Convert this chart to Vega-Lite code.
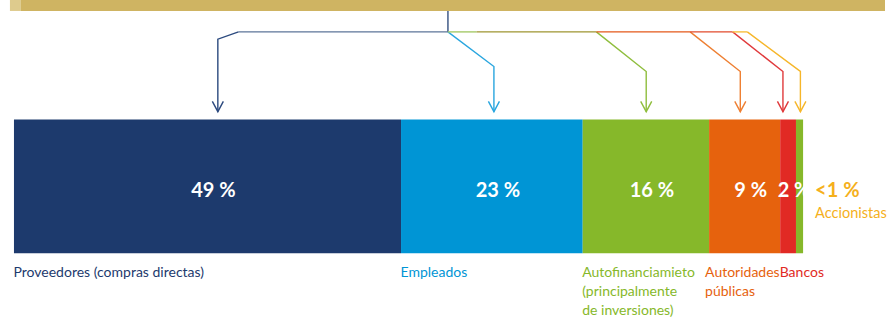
{
  "$schema": "https://vega.github.io/schema/vega-lite/v6.json",
  "width": 887,
  "height": 318,
  "autosize": {"type": "fit", "contains": "padding"},
  "padding": 0,
  "background": "white",
  "config": {"view": {"stroke": null}},
  "datasets": {
    "segments": [
      {"order": 1, "name": "Proveedores", "value": 49, "label": "49 %", "caption": "Proveedores (compras directas)"},
      {"order": 2, "name": "Empleados", "value": 23, "label": "23 %", "caption": "Empleados"},
      {"order": 3, "name": "Autofinanciamiento", "value": 16, "label": "16 %", "caption": "Autofinanciamieto\n(principalmente\nde inversiones)"},
      {"order": 4, "name": "Autoridades", "value": 9, "label": "9 %", "caption": "Autoridades\n públicas"},
      {"order": 5, "name": "Bancos", "value": 2, "label": "2 %", "caption": "Bancos"},
      {"order": 6, "name": "Accionistas", "value": 0.9, "label": "<1 %", "caption": "Accionistas"}
    ],
    "band": [
      {"part": "edge", "from": -0.51, "to": 0.88},
      {"part": "band", "from": 0.88, "to": 110.27}
    ],
    "connectors": [
      {"path": "trunk", "step": 1, "x": 54.94, "y": 11},
      {"path": "trunk", "step": 2, "x": 54.94, "y": 32},
      {"path": "blueH", "step": 1, "x": 54.94, "y": 32},
      {"path": "blueH", "step": 2, "x": 28.42, "y": 32},
      {"path": "blue", "step": 1, "x": 28.42, "y": 32},
      {"path": "blue", "step": 2, "x": 25.81, "y": 39.3},
      {"path": "blue", "step": 3, "x": 25.81, "y": 112},
      {"path": "lightblue", "step": 1, "x": 54.94, "y": 32},
      {"path": "lightblue", "step": 2, "x": 60.76, "y": 66.7},
      {"path": "lightblue", "step": 3, "x": 60.76, "y": 112},
      {"path": "greenH1", "step": 1, "x": 54.94, "y": 32},
      {"path": "greenH1", "step": 2, "x": 58.57, "y": 32},
      {"path": "greenH2", "step": 1, "x": 58.57, "y": 32},
      {"path": "greenH2", "step": 2, "x": 73.73, "y": 32},
      {"path": "green", "step": 1, "x": 73.73, "y": 32},
      {"path": "green", "step": 2, "x": 80.04, "y": 71.7},
      {"path": "green", "step": 3, "x": 80.04, "y": 112},
      {"path": "orangeH", "step": 1, "x": 73.73, "y": 32},
      {"path": "orangeH", "step": 2, "x": 85.6, "y": 32},
      {"path": "orange", "step": 1, "x": 85.6, "y": 32},
      {"path": "orange", "step": 2, "x": 91.95, "y": 71.7},
      {"path": "orange", "step": 3, "x": 91.95, "y": 112},
      {"path": "redH", "step": 1, "x": 85.6, "y": 32},
      {"path": "redH", "step": 2, "x": 90.98, "y": 32},
      {"path": "red", "step": 1, "x": 90.98, "y": 32},
      {"path": "red", "step": 2, "x": 97.35, "y": 71.7},
      {"path": "red", "step": 3, "x": 97.35, "y": 112},
      {"path": "yellowH", "step": 1, "x": 90.98, "y": 32},
      {"path": "yellowH", "step": 2, "x": 92.84, "y": 32},
      {"path": "yellow", "step": 1, "x": 92.84, "y": 32},
      {"path": "yellow", "step": 2, "x": 99.56, "y": 71.7},
      {"path": "yellow", "step": 3, "x": 99.56, "y": 112}
    ]
  },
  "resolve": {"scale": {"color": "shared"}},
  "layer": [
    {
      "data": {"name": "band"},
      "mark": {"type": "rect"},
      "encoding": {
        "x": {"field": "from", "type": "quantitative", "scale": {"domain": [-1.768, 110.27], "nice": false, "zero": false}, "axis": null},
        "x2": {"field": "to"},
        "y": {"datum": 0, "type": "quantitative", "scale": {"domain": [0, 318], "reverse": true, "nice": false, "zero": false}, "axis": null},
        "y2": {"datum": 11},
        "color": {
          "field": "part", "type": "nominal", "legend": null,
          "scale": {
            "domain": ["band", "edge", "trunk", "blueH", "blue", "lightblue", "greenH1", "greenH2", "green", "orangeH", "orange", "redH", "red", "yellowH", "yellow", "Proveedores", "Empleados", "Autofinanciamiento", "Autoridades", "Bancos", "Accionistas"],
            "range": ["#CFB462", "#DECB8D", "#34507F", "#5C7499", "#2C4A7F", "#29A6DF", "#A6CA6A", "#9E9530", "#8FBE3D", "#E4581A", "#EE7F32", "#E24B2D", "#E03A3C", "#F8C03E", "#F6B62A", "#1D3A6D", "#0095D5", "#86B82A", "#E6620D", "#E12A24", "#86B82A"]
          }
        }
      }
    },
    {
      "data": {"name": "connectors"},
      "mark": {"type": "line", "strokeWidth": 1.4, "interpolate": "linear"},
      "encoding": {
        "x": {"field": "x", "type": "quantitative", "scale": {"domain": [-1.768, 110.27], "nice": false, "zero": false}, "axis": null},
        "y": {"field": "y", "type": "quantitative", "scale": {"domain": [0, 318], "reverse": true, "nice": false, "zero": false}, "axis": null},
        "detail": {"field": "path"},
        "order": {"field": "step"},
        "color": {"field": "path", "type": "nominal", "legend": null}
      }
    },
    {
      "data": {"name": "connectors"},
      "transform": [{"filter": "datum.y == 112"}],
      "mark": {"type": "point", "filled": false, "shape": "M-1.07,-2L0,0L1.07,-2", "size": 106, "strokeWidth": 1.4, "opacity": 1},
      "encoding": {
        "x": {"field": "x", "type": "quantitative", "scale": {"domain": [-1.768, 110.27], "nice": false, "zero": false}, "axis": null},
        "y": {"field": "y", "type": "quantitative", "scale": {"domain": [0, 318], "reverse": true, "nice": false, "zero": false}, "axis": null},
        "color": {"field": "path", "type": "nominal", "legend": null}
      }
    },
    {
      "data": {"name": "segments"},
      "transform": [
        {"stack": "value", "groupby": [], "sort": [{"field": "order"}], "as": ["start", "end"]},
        {"calculate": "(datum.start + datum.end) / 2", "as": "mid"}
      ],
      "layer": [
        {
          "mark": {"type": "rect"},
          "encoding": {
            "x": {"field": "start", "type": "quantitative", "scale": {"domain": [-1.768, 110.27], "nice": false, "zero": false}, "axis": null},
            "x2": {"field": "end"},
            "y": {"datum": 120, "type": "quantitative", "scale": {"domain": [0, 318], "reverse": true, "nice": false, "zero": false}, "axis": null},
            "y2": {"datum": 254},
            "color": {"field": "name", "type": "nominal", "legend": null}
          }
        },
        {
          "transform": [{"filter": "datum.order <= 5"}],
          "mark": {"type": "text", "font": "Lato", "fontWeight": "bold", "fontSize": 20, "color": "white", "align": "center", "baseline": "alphabetic", "dx": 6},
          "encoding": {
            "x": {"field": "mid", "type": "quantitative", "scale": {"domain": [-1.768, 110.27], "nice": false, "zero": false}, "axis": null},
            "y": {"datum": 197.7, "type": "quantitative", "scale": {"domain": [0, 318], "reverse": true, "nice": false, "zero": false}, "axis": null},
            "text": {"field": "label"}
          }
        },
        {
          "transform": [{"filter": "datum.order <= 5 && datum.order != 4"}],
          "mark": {"type": "text", "font": "Lato", "fontSize": 14, "align": "left", "baseline": "alphabetic", "lineBreak": "\n", "lineHeight": 19, "dx": -0.5},
          "encoding": {
            "x": {"field": "start", "type": "quantitative", "scale": {"domain": [-1.768, 110.27], "nice": false, "zero": false}, "axis": null},
            "y": {"datum": 277.5, "type": "quantitative", "scale": {"domain": [0, 318], "reverse": true, "nice": false, "zero": false}, "axis": null},
            "text": {"field": "caption"},
            "color": {"field": "name", "type": "nominal", "legend": null}
          }
        },
        {
          "transform": [{"filter": "datum.order == 4"}],
          "mark": {"type": "text", "font": "Lato", "fontSize": 14, "align": "left", "baseline": "alphabetic", "lineBreak": "\n", "lineHeight": 19, "dx": -4},
          "encoding": {
            "x": {"field": "start", "type": "quantitative", "scale": {"domain": [-1.768, 110.27], "nice": false, "zero": false}, "axis": null},
            "y": {"datum": 277.5, "type": "quantitative", "scale": {"domain": [0, 318], "reverse": true, "nice": false, "zero": false}, "axis": null},
            "text": {"field": "caption"},
            "color": {"field": "name", "type": "nominal", "legend": null}
          }
        },
        {
          "transform": [{"filter": "datum.order == 6"}],
          "mark": {"type": "text", "font": "Lato", "fontWeight": "bold", "fontSize": 20, "color": "#F5B01C", "align": "left", "baseline": "alphabetic", "dx": 12},
          "encoding": {
            "x": {"field": "end", "type": "quantitative", "scale": {"domain": [-1.768, 110.27], "nice": false, "zero": false}, "axis": null},
            "y": {"datum": 198, "type": "quantitative", "scale": {"domain": [0, 318], "reverse": true, "nice": false, "zero": false}, "axis": null},
            "text": {"field": "label"}
          }
        },
        {
          "transform": [{"filter": "datum.order == 6"}],
          "mark": {"type": "text", "font": "Lato", "fontSize": 14.5, "color": "#F5B01C", "align": "left", "baseline": "alphabetic", "dx": 12},
          "encoding": {
            "x": {"field": "end", "type": "quantitative", "scale": {"domain": [-1.768, 110.27], "nice": false, "zero": false}, "axis": null},
            "y": {"datum": 218.3, "type": "quantitative", "scale": {"domain": [0, 318], "reverse": true, "nice": false, "zero": false}, "axis": null},
            "text": {"field": "caption"}
          }
        }
      ]
    }
  ]
}
